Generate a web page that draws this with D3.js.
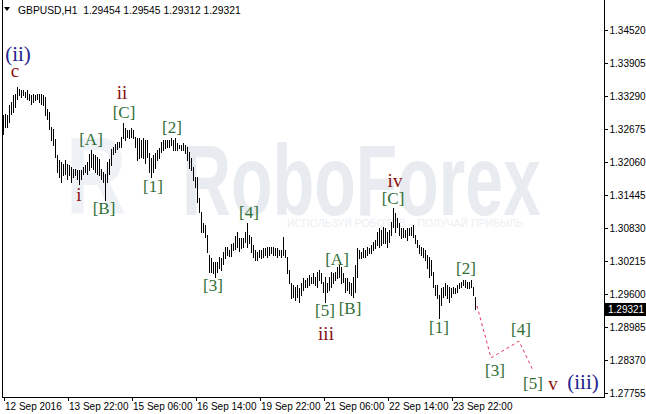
<!DOCTYPE html>
<html><head><meta charset="utf-8">
<script src="https://cdn.jsdelivr.net/npm/d3@7"></script>
<style>
html,body{margin:0;padding:0;background:#fff;}
svg{display:block;}
</style></head>
<body>
<script>
// ---- data ----
const symbol = "GBPUSD,H1";
const ohlcHeader = ["1.29454","1.29545","1.29312","1.29321"];
const lastPrice = 1.29321;

const highs = [
1.3294,1.3296,1.3294,1.3312,1.3318,1.3331,1.3333,1.3346,1.3342,1.3340,
1.3340,1.3337,1.3340,1.3333,1.3331,1.3333,1.3331,1.3333,1.3333,1.3333,
1.3331,1.3327,1.3305,1.3299,1.3271,1.3268,1.3249,1.3219,1.3210,1.3206,
1.3202,1.3210,1.3202,1.3200,1.3197,1.3193,1.3193,1.3191,1.3191,1.3191,
1.3197,1.3200,1.3206,1.3221,1.3228,1.3221,1.3219,1.3215,1.3212,1.3193,
1.3187,1.3184,1.3206,1.3212,1.3230,1.3234,1.3240,1.3243,1.3243,1.3253,
1.3279,1.3269,1.3266,1.3266,1.3269,1.3266,1.3253,1.3251,1.3251,1.3247,
1.3251,1.3247,1.3247,1.3223,1.3214,1.3219,1.3223,1.3228,1.3232,1.3243,
1.3247,1.3247,1.3247,1.3247,1.3251,1.3247,1.3251,1.3241,1.3238,1.3238,
1.3241,1.3238,1.3234,1.3225,1.3214,1.3197,1.3178,1.3178,1.3139,1.3113,
1.3092,1.3089,1.3070,1.3033,1.3027,1.3020,1.3020,1.3020,1.3029,1.3027,
1.3038,1.3048,1.3048,1.3042,1.3053,1.3055,1.3068,1.3076,1.3064,1.3064,
1.3064,1.3076,1.3092,1.3070,1.3066,1.3051,1.3042,1.3038,1.3042,1.3042,
1.3046,1.3046,1.3048,1.3048,1.3048,1.3048,1.3046,1.3046,1.3042,1.3042,
1.3066,1.3042,1.3029,1.3005,1.2980,1.2977,1.2973,1.2977,1.2971,1.2980,
1.2990,1.2986,1.2990,1.2995,1.2992,1.2999,1.2992,1.3001,1.3005,1.2999,
1.2982,1.2992,1.2980,1.2992,1.3001,1.2999,1.3001,1.3010,1.3014,1.3010,
1.2999,1.2990,1.2990,1.2982,1.2980,1.2992,1.3014,1.3046,1.3042,1.3038,
1.3046,1.3042,1.3048,1.3046,1.3051,1.3057,1.3061,1.3076,1.3083,1.3079,
1.3085,1.3083,1.3076,1.3079,1.3094,1.3120,1.3111,1.3102,1.3092,1.3083,
1.3083,1.3079,1.3083,1.3083,1.3085,1.3089,1.3070,1.3061,1.3051,1.3048,
1.3046,1.3042,1.3033,1.3029,1.3023,1.3001,1.2977,1.2977,1.2958,1.2971,
1.2973,1.2980,1.2977,1.2973,1.2971,1.2973,1.2971,1.2977,1.2980,1.2982,
1.2986,1.2986,1.2982,1.2982,1.2986,1.2973,1.29545
];
const lows = [
1.3258,1.3271,1.3271,1.3281,1.3296,1.3299,1.3309,1.3323,1.3331,1.3327,
1.3331,1.3327,1.3323,1.3322,1.3314,1.3318,1.3322,1.3323,1.3318,1.3314,
1.3312,1.3294,1.3286,1.3268,1.3247,1.3238,1.3215,1.3187,1.3178,1.3169,
1.3182,1.3184,1.3174,1.3182,1.3169,1.3178,1.3182,1.3174,1.3165,1.3174,
1.3184,1.3187,1.3184,1.3191,1.3197,1.3193,1.3187,1.3184,1.3182,1.3174,
1.3169,1.3135,1.3169,1.3184,1.3200,1.3221,1.3225,1.3230,1.3234,1.3234,
1.3251,1.3247,1.3253,1.3251,1.3253,1.3251,1.3234,1.3210,1.3214,1.3215,
1.3214,1.3204,1.3215,1.3187,1.3178,1.3187,1.3195,1.3210,1.3214,1.3225,
1.3228,1.3232,1.3234,1.3234,1.3238,1.3228,1.3228,1.3228,1.3232,1.3228,
1.3228,1.3223,1.3210,1.3195,1.3191,1.3172,1.3160,1.3132,1.3113,1.3076,
1.3076,1.3066,1.3038,1.3001,1.3001,1.2999,1.2992,1.3001,1.3009,1.3005,
1.3016,1.3027,1.3033,1.3031,1.3031,1.3042,1.3044,1.3048,1.3040,1.3046,
1.3048,1.3057,1.3048,1.3055,1.3038,1.3029,1.3023,1.3023,1.3029,1.3027,
1.3029,1.3033,1.3029,1.3033,1.3036,1.3033,1.3033,1.3029,1.3033,1.3029,
1.3033,1.3029,1.2999,1.2980,1.2952,1.2954,1.2949,1.2954,1.2945,1.2958,
1.2967,1.2973,1.2973,1.2977,1.2980,1.2980,1.2977,1.2973,1.2986,1.2980,
1.2964,1.2945,1.2964,1.2967,1.2973,1.2980,1.2986,1.2990,1.2992,1.2980,
1.2982,1.2964,1.2967,1.2962,1.2958,1.2954,1.2964,1.2992,1.3027,1.3027,
1.3029,1.3029,1.3033,1.3036,1.3036,1.3042,1.3046,1.3051,1.3048,1.3051,
1.3055,1.3055,1.3048,1.3057,1.3070,1.3085,1.3076,1.3085,1.3070,1.3064,
1.3066,1.3066,1.3061,1.3070,1.3070,1.3066,1.3055,1.3048,1.3036,1.3033,
1.3029,1.3023,1.3009,1.2992,1.2995,1.2973,1.2958,1.2952,1.2915,1.2940,
1.2954,1.2958,1.2952,1.2945,1.2954,1.2962,1.2962,1.2964,1.2971,1.2973,
1.2977,1.2973,1.2971,1.2971,1.2973,1.2958,1.29312
];

// projected wave path (bar index, price)
const projIdx   = [237, 244, 258, 265];
const projPrice = [1.2938, 1.2841, 1.2872, 1.2818];

// price axis ticks
const yTicks = [1.34520,1.33905,1.33290,1.32675,1.32060,1.31445,1.30830,1.30215,1.29600,1.28985,1.28370,1.27755];
// time axis ticks (bar index) and labels
const xTickIdx = [0,32,64,96,128,160,192,224];
const xTickLabels = ["12 Sep 2016","13 Sep 22:00","15 Sep 06:00","16 Sep 14:00","19 Sep 22:00","21 Sep 06:00","22 Sep 14:00","23 Sep 22:00"];

// wave labels: text, bar index, price (baseline), kind
const waveText  = ["(ii)","c","ii","[C]","[A]","[2]","i","[1]","[B]","[4]","[3]","[A]","[5]","[B]","iii","iv","[C]","[1]","[2]","[3]","[4]","[5]","v","(iii)"];
const waveIdx   = [7.5,6,59.5,60.5,44,84.5,38,75,50.5,123,105,167,161,173.5,161.5,196,195,218,231.5,246,259,265,275,290];
const wavePrice = [1.3394,1.3364,1.3323,1.3288,1.3238,1.3260,1.3133,1.3150,1.3109,1.3102,1.2966,1.3014,1.2919,1.2923,1.2874,1.3160,1.3127,1.2887,1.2997,1.2807,1.2884,1.2783,1.2781,1.2783];
const waveKind  = ["major","minor","minor","sub","sub","sub","minor","sub","sub","sub","sub","sub","sub","sub","minor","minor","sub","sub","sub","sub","sub","sub","minor","major"];

// ---- drawing ----
const W = 646, H = 414;
const svg = d3.select("body").append("svg").attr("width", W).attr("height", H)
  .style("font-family", "'Liberation Sans', Arial, sans-serif");

const x = d3.scaleLinear().domain([0, 300]).range([3, 603]);
const y = d3.scaleLinear().domain([1.27755, 1.34520]).range([393, 30]);

// watermark
const wm = svg.append("g").attr("fill", "#e8ecf1").attr("font-weight", "bold")
  .attr("font-family", "'Liberation Sans', Arial, sans-serif");
wm.append("text").attr("transform", "translate(66,214) scale(1.1,1.45)")
  .attr("font-size", 76).attr("fill", "#eef1f5").text("R");
wm.append("text").attr("transform", "translate(182,215) scale(1,1.46)")
  .attr("font-size", 68).text("RoboForex");
wm.append("text").attr("x", 287).attr("y", 227).attr("font-size", 10.5)
  .attr("font-weight", "normal").attr("fill", "#eceff3")
  .text("ИСПОЛЬЗУЙ РОБОТОВ – ПОЛУЧАЙ ПРИБЫЛЬ");

// frame
svg.append("g").attr("stroke", "#000").attr("shape-rendering", "crispEdges")
  .call(g => {
    g.append("line").attr("x1", 2.5).attr("x2", 2.5).attr("y1", 0).attr("y2", 398);
    g.append("line").attr("x1", 604.5).attr("x2", 604.5).attr("y1", 0).attr("y2", 398);
    g.append("line").attr("x1", 2).attr("x2", 605).attr("y1", 397.5).attr("y2", 397.5);
  });

// bars
svg.append("g").attr("shape-rendering", "crispEdges")
  .selectAll("rect").data(highs.map((h, i) => ({i, h, l: lows[i]})))
  .join("rect")
  .attr("x", d => x(d.i))
  .attr("width", 1)
  .attr("y", d => Math.round(y(d.h)))
  .attr("height", d => Math.round(y(d.l)) - Math.round(y(d.h)) + 1)
  .attr("fill", "#000");

// projection
svg.append("path")
  .attr("d", d3.line().x(d => x(d[0])).y(d => y(d[1]))(projIdx.map((v, i) => [v, projPrice[i]])))
  .attr("fill", "none").attr("stroke", "#e8365f").attr("stroke-width", 1)
  .attr("stroke-dasharray", "3,3");

// wave labels
const kindStyle = {
  major: {fill: "#23238e", size: 21},
  minor: {fill: "#8b1010", size: 19},
  sub:   {fill: "#2f6e35", size: 17}
};
svg.append("g").attr("font-family", "'Liberation Serif', 'Times New Roman', serif")
  .attr("text-anchor", "middle")
  .selectAll("text").data(waveText.map((t, i) => ({t, i: waveIdx[i], p: wavePrice[i], k: waveKind[i]})))
  .join("text")
  .attr("x", d => x(d.i)).attr("y", d => y(d.p))
  .attr("fill", d => kindStyle[d.k].fill)
  .attr("font-size", d => kindStyle[d.k].size)
  .text(d => d.t);

// price axis
const yAxis = d3.axisRight(y).tickValues(yTicks).tickSize(3).tickPadding(2)
  .tickFormat(d3.format(".5f"));
svg.append("g").attr("transform", "translate(604.5,0)").call(yAxis)
  .call(g => g.select(".domain").remove())
  .call(g => g.selectAll("text").attr("font-size", 10).attr("fill", "#000")
      .attr("font-family", "'Liberation Sans', Arial, sans-serif"))
  .call(g => g.selectAll("line").attr("stroke", "#000").attr("shape-rendering", "crispEdges"));

// current price marker
const py = Math.round(y(lastPrice));
svg.append("rect").attr("x", 605).attr("y", py - 6).attr("width", 41).attr("height", 13).attr("fill", "#000");
svg.append("text").attr("x", 608).attr("y", py).attr("dy", "0.35em").attr("font-size", 10)
  .attr("fill", "#fff").text(d3.format(".5f")(lastPrice));

// time axis
const xAxis = d3.axisBottom(x).tickValues(xTickIdx).tickSize(4).tickPadding(2)
  .tickFormat((d, i) => xTickLabels[i]);
svg.append("g").attr("transform", "translate(0.5,397)").call(xAxis)
  .call(g => g.select(".domain").remove())
  .call(g => g.selectAll("line").attr("stroke", "#000").attr("shape-rendering", "crispEdges"))
  .call(g => g.selectAll("text").attr("text-anchor", "start").attr("dx", 1).attr("font-size", 10)
      .attr("fill", "#000").attr("font-family", "'Liberation Sans', Arial, sans-serif"));

// header
svg.append("path").attr("d", "M4,7 L10,7 L7,11 Z").attr("fill", "#000");
svg.append("text").attr("x", 18).attr("y", 14).attr("font-size", 10.3).attr("fill", "#000")
  .style("white-space", "pre")
  .text(symbol + "  " + ohlcHeader.join(" "));
</script>
</body></html>
